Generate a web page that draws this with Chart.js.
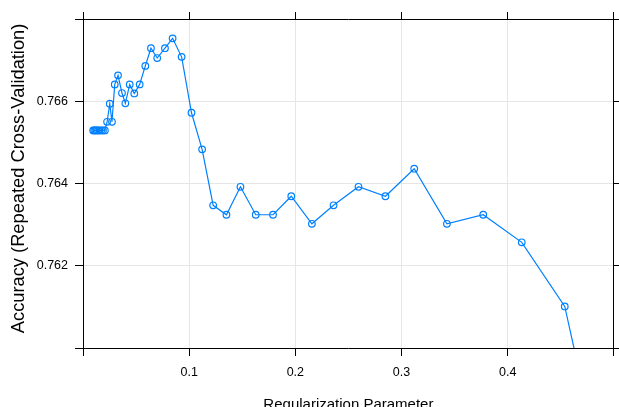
<!DOCTYPE html>
<html>
<head>
<meta charset="utf-8">
<script src="https://cdn.jsdelivr.net/npm/chart.js@4/dist/chart.umd.min.js"></script>
<style>
  html, body { margin: 0; padding: 0; background: #fff; overflow: hidden; }
  #wrap { position: absolute; left: 0; top: 0; width: 619px; height: 414px; }
</style>
</head>
<body>
<div id="wrap"><canvas id="c" width="619" height="414"></canvas></div>
<script>
// Regularization parameter values tried during tuning
const lambdaValues = [
  0.0096, 0.0106, 0.0117, 0.0128, 0.0141, 0.0155, 0.0171, 0.0188, 0.0206,
  0.0227, 0.0252, 0.0273, 0.0299, 0.0330, 0.0367, 0.0399, 0.0440, 0.0483, 0.0534, 0.0587,
  0.0640, 0.0699, 0.0772, 0.0844, 0.0929,
  0.1022, 0.1122, 0.1226, 0.1351, 0.1483, 0.1627, 0.1790, 0.1962, 0.2156, 0.2360,
  0.2595, 0.2849, 0.3120, 0.3428, 0.3770, 0.4133, 0.4538, 0.4994
];

// Mean accuracy from repeated cross-validation at each value
const accuracyValues = [
  0.76529, 0.76529, 0.76529, 0.76529, 0.76529, 0.76529, 0.76529, 0.76529, 0.76529,
  0.76550, 0.76594, 0.76550, 0.76641, 0.76663, 0.76620, 0.76595, 0.76641, 0.76619, 0.76641, 0.76686,
  0.76729, 0.76705, 0.76729, 0.76753, 0.76708,
  0.76572, 0.76483, 0.76347, 0.76324, 0.76392, 0.76324, 0.76324, 0.76369, 0.76302, 0.76347,
  0.76392, 0.76369, 0.76436, 0.76302, 0.76324, 0.76257, 0.76101, 0.75571
];

// Axis ticks: the outer ones mark the panel edges and carry no label
const xTicks = [0, 0.1, 0.2, 0.3, 0.4, 0.5];
const xTickLabels = ['', '0.1', '0.2', '0.3', '0.4', ''];
const yTicks = [0.760, 0.762, 0.764, 0.766, 0.768];
const yTickLabels = ['', '0.762', '0.764', '0.766', ''];

const xTitle = 'Regularization Parameter';
const yTitle = '  Accuracy (Repeated Cross-Validation)';

const lineColor = '#0080ff';
const gridColor = '#e6e6e6';

Chart.defaults.font.family = "'Liberation Sans', Arial, Helvetica, sans-serif";
Chart.defaults.color = '#000';

const points = lambdaValues.map((x, i) => ({ x: x, y: accuracyValues[i] }));

function innerGrid(n) {
  return (ctx) => (ctx.index === 0 || ctx.index === n - 1) ? 'rgba(0,0,0,0)' : gridColor;
}

function setTicks(values) {
  return (scale) => { scale.ticks = values.map(v => ({ value: v })); };
}

// fixed panel geometry: no extra room reserved for edge labels
function fixSize(prop, size) {
  return (s) => {
    s[prop] = size;
    s.paddingLeft = 0; s.paddingRight = 0; s.paddingTop = 0; s.paddingBottom = 0;
  };
}

const border = { display: true, color: '#000', width: 1 };

new Chart(document.getElementById('c'), {
  type: 'scatter',
  data: {
    datasets: [{
      data: points,
      showLine: true,
      borderColor: lineColor,
      borderWidth: 1.2,
      backgroundColor: 'rgba(0,0,0,0)',
      pointStyle: 'circle',
      pointRadius: 3.3,
      pointBorderWidth: 1.2,
      pointBorderColor: lineColor,
      pointBackgroundColor: 'rgba(0,0,0,0)',
      tension: 0
    }]
  },
  options: {
    responsive: false,
    animation: false,
    devicePixelRatio: 1,
    layout: { padding: 0 },
    plugins: { legend: { display: false }, tooltip: { enabled: false } },
    scales: {
      x: {
        type: 'linear', position: 'bottom', min: 0, max: 0.5,
        afterBuildTicks: setTicks(xTicks),
        afterFit: fixSize('height', 66),
        border: border,
        grid: { color: innerGrid(xTicks.length), tickColor: '#000', tickLength: 8, lineWidth: 1 },
        ticks: {
          padding: 9, maxRotation: 0, autoSkip: false,
          font: { size: 12.5 },
          callback: (v, i) => xTickLabels[i]
        },
        title: { display: true, text: xTitle, font: { size: 15 }, padding: { top: 0, bottom: 0 } }
      },
      x2: {
        type: 'linear', position: 'top', min: 0, max: 0.5,
        afterBuildTicks: setTicks(xTicks),
        afterFit: fixSize('height', 19),
        border: border,
        grid: { drawOnChartArea: false, tickColor: '#000', tickLength: 7 },
        ticks: { display: false }
      },
      y: {
        type: 'linear', position: 'left', min: 0.760, max: 0.768,
        afterBuildTicks: setTicks(yTicks),
        afterFit: fixSize('width', 83),
        border: border,
        grid: { color: innerGrid(yTicks.length), tickColor: '#000', tickLength: 8, lineWidth: 1 },
        ticks: {
          padding: 7, autoSkip: false,
          font: { size: 12.5 },
          callback: (v, i) => yTickLabels[i]
        },
        title: { display: true, text: yTitle, font: { size: 18.3 }, padding: { top: 8, bottom: 0 } }
      },
      y2: {
        type: 'linear', position: 'right', min: 0.760, max: 0.768,
        afterBuildTicks: setTicks(yTicks),
        afterFit: fixSize('width', 4),
        border: border,
        grid: { drawOnChartArea: false, tickColor: '#000', tickLength: 7 },
        ticks: { display: false }
      }
    }
  }
});
</script>
</body>
</html>
